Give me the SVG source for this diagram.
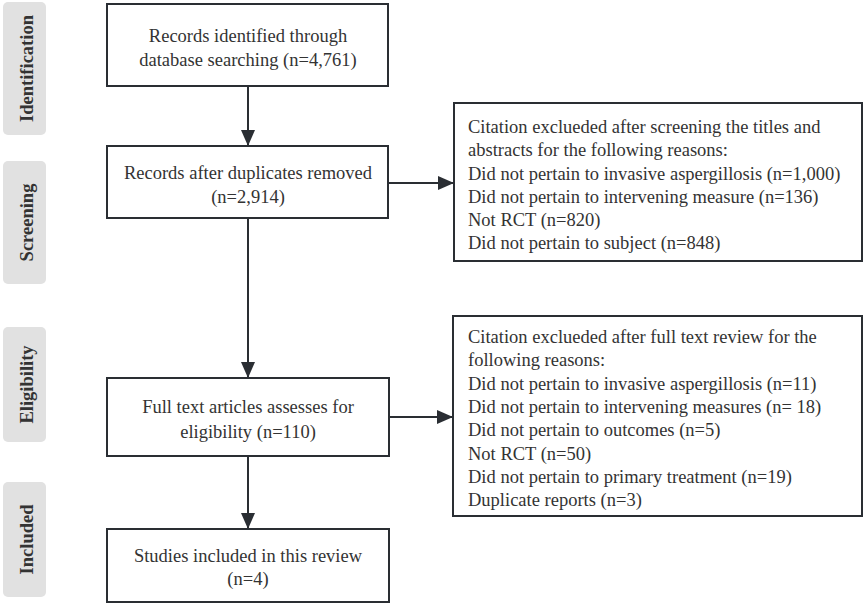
<svg xmlns="http://www.w3.org/2000/svg" width="865" height="604" viewBox="0 0 865 604">
<style>
.box{fill:#ffffff;stroke:#2a2e33;stroke-width:2}
.side{fill:#e1e1e1}
.st{font-family:"Liberation Serif","Times New Roman",serif;font-size:18.5px;font-weight:bold;fill:#333333;text-anchor:middle}
.t{font-family:"Liberation Serif","Times New Roman",serif;font-size:18.5px;fill:#333333}
.c{text-anchor:middle}
.ln{stroke:#2a2e33;stroke-width:2;fill:none}
</style>
<defs>
<marker id="ah" markerUnits="userSpaceOnUse" markerWidth="17" markerHeight="14" refX="16" refY="7" orient="auto">
<path d="M0,0 L16,7 L0,14 Z" fill="#2a2e33"/>
</marker>
</defs>
<rect width="865" height="604" fill="#ffffff"/>
<g id="side-identification"><rect class="side" x="3" y="2" width="43" height="133" rx="5"/><text class="st" transform="translate(33,68.5) rotate(-90)">Identification</text></g>
<g id="side-screening"><rect class="side" x="3" y="161" width="43" height="123" rx="5"/><text class="st" transform="translate(33,222.5) rotate(-90)">Screening</text></g>
<g id="side-eligibility"><rect class="side" x="3" y="327" width="43" height="115" rx="5"/><text class="st" transform="translate(33,384.5) rotate(-90)">Eligibility</text></g>
<g id="side-included"><rect class="side" x="3" y="482" width="43" height="115" rx="5"/><text class="st" transform="translate(33,539.5) rotate(-90)">Included</text></g>
<g id="connectors">
<line class="ln" x1="248" y1="86" x2="248" y2="146" marker-end="url(#ah)"/>
<line class="ln" x1="248" y1="218" x2="248" y2="378" marker-end="url(#ah)"/>
<line class="ln" x1="248" y1="456" x2="248" y2="529" marker-end="url(#ah)"/>
<line class="ln" x1="388" y1="183" x2="454" y2="183" marker-end="url(#ah)"/>
<line class="ln" x1="389" y1="417" x2="453" y2="417" marker-end="url(#ah)"/>
</g>
<g id="n-identified"><rect class="box" x="107" y="4" width="281" height="82"/><text class="t c" x="248" y="42">Records identified through</text><text class="t c" x="248" y="65.5">database searching (n=4,761)</text></g>
<g id="n-duplicates"><rect class="box" x="107" y="146" width="281" height="72"/><text class="t c" x="248" y="179">Records after duplicates removed</text><text class="t c" x="248" y="203">(n=2,914)</text></g>
<g id="n-fulltext"><rect class="box" x="107" y="378" width="282" height="78"/><text class="t c" x="248" y="413">Full text articles assesses for</text><text class="t c" x="248" y="438">eligibility (n=110)</text></g>
<g id="n-included"><rect class="box" x="107" y="529" width="282" height="73"/><text class="t c" x="248" y="562">Studies included in this review</text><text class="t c" x="248" y="585">(n=4)</text></g>
<g id="n-excluded1"><rect class="box" x="454" y="103" width="408" height="158"/>
<text class="t" x="468" y="133">Citation exclueded after screening the titles and</text>
<text class="t" x="468" y="156">abstracts for the following reasons:</text>
<text class="t" x="468" y="179.5">Did not pertain to invasive aspergillosis (n=1,000)</text>
<text class="t" x="468" y="203">Did not pertain to intervening measure (n=136)</text>
<text class="t" x="468" y="226">Not RCT (n=820)</text>
<text class="t" x="468" y="249">Did not pertain to subject (n=848)</text>
</g>
<g id="n-excluded2"><rect class="box" x="453" y="316" width="409" height="200"/>
<text class="t" x="468" y="343">Citation exclueded after full text review for the</text>
<text class="t" x="468" y="366.3">following reasons:</text>
<text class="t" x="468" y="389.6">Did not pertain to invasive aspergillosis (n=11)</text>
<text class="t" x="468" y="412.9">Did not pertain to intervening measures (n= 18)</text>
<text class="t" x="468" y="436.2">Did not pertain to outcomes (n=5)</text>
<text class="t" x="468" y="459.5">Not RCT (n=50)</text>
<text class="t" x="468" y="482.8">Did not pertain to primary treatment (n=19)</text>
<text class="t" x="468" y="506">Duplicate reports (n=3)</text>
</g>
</svg>
